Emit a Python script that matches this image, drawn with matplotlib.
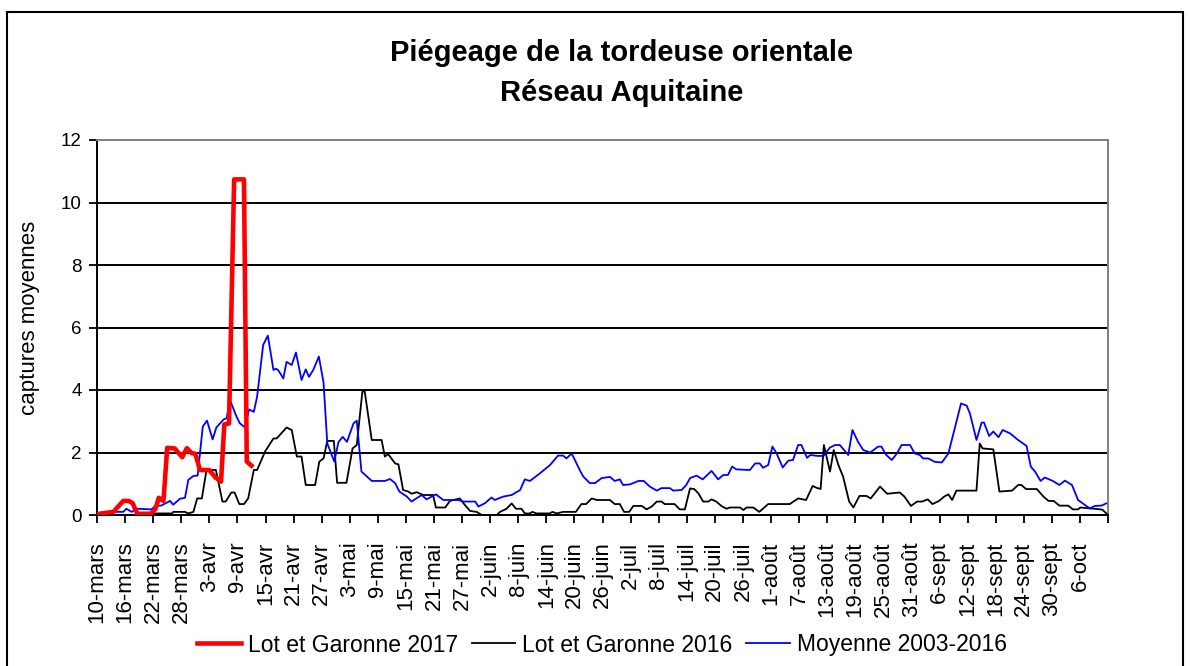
import matplotlib
matplotlib.use("Agg")
import matplotlib.pyplot as plt
from matplotlib.patches import Rectangle

### textes
titre = "Piégeage de la tordeuse orientale\nRéseau Aquitaine"
yLabel = "captures moyennes"
legendes = ["Lot et Garonne 2017", "Lot et Garonne 2016", "Moyenne 2003-2016"]

# étiquettes de l'axe des dates (une tous les 6 jours depuis le 10 mars)
etiquettes = ["10-mars", "16-mars", "22-mars", "28-mars", "3-avr", "9-avr", "15-avr",
              "21-avr", "27-avr", "3-mai", "9-mai", "15-mai", "21-mai", "27-mai",
              "2-juin", "8-juin", "14-juin", "20-juin", "26-juin", "2-juil", "8-juil",
              "14-juil", "20-juil", "26-juil", "1-août", "7-août", "13-août", "19-août",
              "25-août", "31-août", "6-sept", "12-sept", "18-sept", "24-sept", "30-sept",
              "6-oct"]
nbJours = 216  # 10 mars -> 12 oct

### données : jour (depuis le 10 mars) et captures moyennes
jours2017 = [0, 3.5, 5.6, 6.8, 7.6, 8.6, 11.5, 12.5, 13.2, 14.2, 15.0, 16.6, 18.2, 19.2,
             20.2, 21.0, 22.0, 24.0, 25.3, 26.5, 27.2, 28.2, 29.3, 31.4, 32.0, 33.0]
val2017 = [0.03, 0.1, 0.45, 0.45, 0.38, 0.04, 0.04, 0.2, 0.55, 0.45, 2.15, 2.13, 1.85, 2.14,
           1.98, 1.96, 1.44, 1.44, 1.2, 1.07, 2.9, 2.93, 10.74, 10.74, 1.71, 1.58]

jours2016 = [0, 11.0, 11.5, 16.0, 16.3, 18.8, 19.5, 20.6, 21.4, 22.4, 23.4, 25.4, 26.8, 27.5,
             28.7, 29.4, 30.4, 31.4, 32.3, 33.5, 34.2, 35.9, 37.7, 38.4, 40.5, 41.6, 42.7,
             43.7, 44.6, 46.6, 47.5, 48.4, 49.2, 50.6, 51.3, 53.3, 54.6, 55.5, 56.7, 57.2,
             58.7, 60.8, 61.5, 62.2, 63.7, 64.4, 65.4, 66.5, 67.2, 68.3, 69.7, 71.8, 72.4,
             74.4, 75.4, 77.5, 78.6, 79.7, 81.1, 82.2, 85.4, 86.1, 87.5, 88.6, 89.5, 90.7,
             91.4, 92.5, 93.0, 93.9, 96.7, 97.3, 98.2, 99.6, 102.3, 103.5, 104.5, 105.7,
             106.8, 109.6, 110.6, 111.7, 112.6, 113.7, 114.6, 116.4, 117.4, 118.5, 119.6,
             120.6, 121.3, 123.4, 124.5, 125.6, 126.7, 127.6, 128.5, 129.5, 130.6, 131.3,
             132.3, 133.4, 134.5, 135.2, 137.4, 138.1, 138.8, 140.2, 141.5, 143.4, 148.0,
             149.8, 151.5, 152.9, 153.6, 154.6, 155.3, 156.6, 157.4, 158.4, 159.4, 160.7,
             161.6, 162.9, 164.4, 165.3, 167.3, 168.8, 171.5, 172.5, 173.9, 175.2, 176.3,
             177.5, 178.5, 179.9, 181.0, 181.9, 182.7, 183.6, 187.9, 188.6, 189.2, 191.5,
             192.8, 195.5, 196.8, 197.5, 198.5, 200.8, 202.2, 203.3, 204.4, 205.6, 207.5,
             208.5, 209.6, 210.1, 213.8, 214.8, 216]
val2016 = [0.0, 0.0, 0.05, 0.05, 0.1, 0.1, 0.05, 0.1, 0.53, 0.53, 1.44, 1.44, 0.43, 0.43,
           0.72, 0.72, 0.35, 0.35, 0.53, 1.44, 1.44, 2.03, 2.45, 2.45, 2.8, 2.72, 1.87,
           1.87, 0.96, 0.96, 1.71, 1.81, 2.37, 2.37, 1.03, 1.03, 2.13, 2.24, 3.95, 3.95,
           2.4, 2.4, 1.87, 1.95, 1.65, 1.62, 0.8, 0.75, 0.68, 0.73, 0.64, 0.64, 0.24,
           0.24, 0.45, 0.53, 0.32, 0.13, 0.1, 0.0, 0.0, 0.1, 0.2, 0.37, 0.2, 0.2,
           0.05, 0.05, 0.1, 0.05, 0.05, 0.1, 0.05, 0.1, 0.1, 0.35, 0.35, 0.53,
           0.48, 0.48, 0.35, 0.35, 0.1, 0.1, 0.29, 0.29, 0.18, 0.27, 0.43,
           0.43, 0.35, 0.35, 0.18, 0.18, 0.85, 0.83, 0.69, 0.43, 0.43, 0.5,
           0.43, 0.29, 0.2, 0.24, 0.24, 0.16, 0.24, 0.24, 0.1, 0.35, 0.35,
           0.53, 0.48, 0.93, 0.88, 0.83, 2.24, 1.39, 2.08, 1.6, 1.23, 0.43,
           0.24, 0.61, 0.61, 0.53, 0.91, 0.68, 0.72, 0.59, 0.29, 0.43, 0.43,
           0.5, 0.35, 0.45, 0.59, 0.66, 0.48, 0.78, 0.78, 2.29, 2.13, 2.1,
           0.75, 0.78, 0.96, 0.96, 0.83, 0.83, 0.59, 0.45, 0.45, 0.3, 0.3,
           0.18, 0.18, 0.24, 0.19, 0.17, 0.0]

joursMoy = [0, 3.5, 5.6, 6.3, 7.4, 8.5, 11.6, 12.6, 13.7, 15.6, 16.3, 17.7, 18.8, 19.5, 20.6,
            21.5, 22.6, 23.5, 24.7, 25.5, 27.0, 27.7, 28.4, 29.8, 30.5, 31.6, 32.5, 33.5,
            34.2, 35.5, 36.5, 37.7, 38.2, 38.7, 39.8, 40.5, 41.6, 42.5, 43.7, 44.6, 45.3,
            46.2, 47.4, 48.4, 49.2, 50.7, 51.6, 52.5, 53.4, 54.8, 55.5, 56.5, 58.7, 61.5,
            62.6, 63.7, 64.6, 66.2, 67.2, 68.3, 69.4, 70.4, 71.5, 72.4, 74.0, 77.2, 78.3,
            80.8, 81.5, 82.9, 84.3, 85.0, 86.8, 88.6, 90.4, 91.4, 92.5, 94.6, 96.8, 98.5,
            99.6, 100.3, 101.4, 102.1, 103.2, 103.9, 105.3, 106.4, 107.8, 109.6, 110.6,
            111.7, 112.4, 113.9, 115.7, 116.8, 118.1, 119.6, 120.6, 122.4, 123.1, 124.9,
            125.9, 126.7, 128.1, 129.4, 131.3, 132.7, 133.8, 134.8, 135.7, 136.6, 139.5,
            140.6, 141.6, 142.3, 143.4, 144.3, 145.2, 146.5, 147.7, 148.7, 149.8, 150.5,
            151.7, 152.4, 154.0, 155.2, 156.6, 157.7, 158.7, 160.5, 161.4, 162.6, 163.7,
            165.2, 166.9, 167.6, 168.5, 169.8, 170.9, 171.9, 173.7, 174.7, 175.8, 176.5,
            177.6, 179.0, 180.5, 181.9, 182.9, 184.6, 185.8, 186.5, 187.9, 189.0, 189.5,
            190.6, 191.5, 192.6, 193.5, 195.1, 196.8, 198.6, 199.5, 200.4, 201.6, 202.5,
            204.2, 205.6, 206.8, 208.3, 209.6, 211.1, 212.1, 213.2, 214.6, 215.6]
valMoy = [0.03, 0.1, 0.1, 0.2, 0.1, 0.2, 0.18, 0.3, 0.3, 0.45, 0.33, 0.52, 0.55, 1.12, 1.25,
          1.26, 2.83, 3.02, 2.42, 2.8, 3.05, 3.1, 3.68, 3.15, 2.94, 2.8, 3.38, 3.3,
          3.78, 5.44, 5.74, 4.64, 4.68, 4.64, 4.37, 4.9, 4.8, 5.2, 4.32, 4.66, 4.42,
          4.64, 5.07, 4.24, 2.29, 1.71, 2.34, 2.5, 2.34, 2.93, 3.02, 1.39, 1.09, 1.09,
          1.15, 1.02, 0.75, 0.59, 0.43, 0.54, 0.64, 0.5, 0.59, 0.66, 0.48, 0.48, 0.43,
          0.43, 0.27, 0.38, 0.56, 0.48, 0.59, 0.64, 0.8, 1.14, 1.09, 1.33, 1.6, 1.9,
          1.9, 1.81, 1.97, 1.76, 1.42, 1.23, 1.02, 1.02, 1.18, 1.22, 1.09,
          1.14, 0.96, 0.98, 1.09, 1.09, 0.91, 0.78, 0.86, 0.86, 0.78, 0.8,
          0.96, 1.18, 1.26, 1.14, 1.41, 1.14, 1.28, 1.28, 1.55, 1.46, 1.44,
          1.65, 1.65, 1.51, 1.6, 2.19, 1.97, 1.52, 1.74, 1.76, 2.24, 2.24,
          1.83, 1.92, 1.89, 1.89, 2.16, 2.24, 2.24, 1.92, 2.72, 2.34, 2.08,
          2.0, 2.19, 2.19, 1.94, 1.76, 1.97, 2.24, 2.24, 1.97, 1.92, 1.81,
          1.81, 1.7, 1.68, 1.97, 2.56, 3.57, 3.5, 3.25, 2.4, 2.96, 2.96,
          2.53, 2.67, 2.49, 2.72, 2.61, 2.4, 2.21, 1.55, 1.39, 1.09, 1.2,
          1.09, 0.96, 1.1, 0.96, 0.48, 0.32, 0.21, 0.29, 0.3, 0.37]

### tracé
plt.rcParams["font.family"] = ["Liberation Sans", "DejaVu Sans"]

W, H = 1190, 666
fig = plt.figure(figsize=(W / 100, H / 100), dpi=100)
ax = fig.add_axes([97 / W, 151 / H, (1108 - 97) / W, 375 / H])

# cadre du graphique
fig.patches.append(Rectangle((7 / W, -0.05), (1183 - 7) / W, 1.05 - 12 / H,
                             transform=fig.transFigure, fill=False,
                             edgecolor="black", linewidth=1.5))

ax.plot(jours2017, val2017, color="#ff0000", linewidth=3.3, label=legendes[0], zorder=4)
ax.plot(jours2016, val2016, color="black", linewidth=1.3, label=legendes[1], zorder=3)
ax.plot(joursMoy, valMoy, color="#0000ff", linewidth=1.3, label=legendes[2], zorder=3)

ax.set_xlim(0, nbJours)
ax.set_ylim(0, 12)
ax.set_yticks(range(0, 13, 2))
ax.set_xticks(range(0, nbJours + 1, 6))
ax.set_xticklabels(etiquettes + [""], rotation=90, fontsize=16)
ax.tick_params(axis="x", length=6, width=1.3, pad=13)
ax.tick_params(axis="y", length=6, width=1.3, pad=5, labelsize=13.5)

for v in range(2, 12, 2):
    ax.axhline(v, color="black", linewidth=1.4, zorder=1)

for s in ["left", "bottom"]:
    ax.spines[s].set_linewidth(1.4)
    ax.spines[s].set_color("black")
for s in ["top", "right"]:
    ax.spines[s].set_linewidth(1.4)
    ax.spines[s].set_color("#808080")

fig.text(30 / W, 1 - 318 / H, yLabel, rotation=90, ha="center", va="center", fontsize=16)
fig.text(622 / W, 1 - 73 / H, titre, ha="center", va="center", fontsize=21,
         fontweight="bold", linespacing=1.55)

fig.legend(loc="center", bbox_to_anchor=(602 / W, 1 - 645 / H), ncol=3, frameon=False,
           fontsize=16.5, handlelength=1.9, handletextpad=0.3, columnspacing=0.6)

plt.savefig("out.png", dpi=100)
